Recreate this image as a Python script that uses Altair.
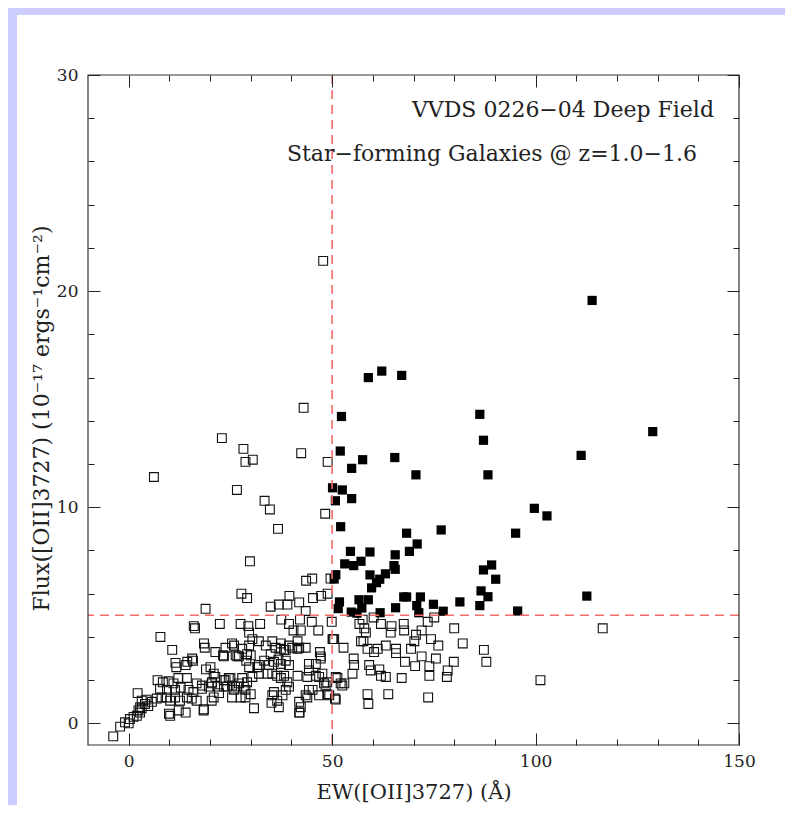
import altair as alt
import pandas as pd

# ---------------- data ----------------
open_squares = [
    (47.8, 21.4), (43.0, 14.6), (22.9, 13.2), (28.2, 12.7), (28.7, 12.1), (30.5, 12.2),
    (42.4, 12.5), (48.9, 12.1), (6.2, 11.4), (26.6, 10.8), (33.4, 10.3), (34.7, 9.9),
    (48.3, 9.7), (36.7, 9.0), (29.8, 7.5), (43.6, 6.6), (45.1, 6.7), (49.6, 6.7),
    (27.7, 6.0), (29.1, 5.8), (39.5, 5.9), (45.3, 5.8), (47.3, 5.9), (48.9, 6.0),
    (34.9, 5.4), (36.9, 5.5), (39.0, 5.5), (41.9, 5.6), (43.5, 5.2), (18.9, 5.3),
    (16.0, 4.5), (16.3, 4.4), (22.4, 4.6), (27.5, 4.6), (29.6, 4.2), (32.3, 4.6),
    (37.5, 4.8), (39.4, 4.6), (42.1, 4.8), (45.0, 4.7), (46.6, 4.3), (49.9, 4.7),
    (40.5, 4.3), (7.8, 4.0), (29.4, 4.5), (42.3, 4.3), (50.2, 3.9), (57.5, 4.8),
    (56.7, 4.6), (57.9, 4.4), (58.3, 4.2), (57.7, 3.8), (57.1, 3.8), (60.2, 4.9),
    (62.0, 4.6), (64.6, 4.5), (64.4, 4.2), (67.6, 4.6), (67.7, 4.3), (70.6, 4.1),
    (72.0, 4.3), (73.5, 4.7), (75.1, 4.9), (80.0, 4.4), (82.1, 3.7), (116.5, 4.4),
    (10.7, 3.4), (18.5, 3.7), (18.7, 3.5), (21.3, 3.3), (23.2, 3.15), (23.8, 3.5),
    (25.9, 3.6), (26.3, 3.15), (27.1, 3.1), (27.9, 3.45), (29.6, 3.6), (30.4, 3.9),
    (32.0, 3.8), (29.1, 3.2), (33.7, 3.6), (35.3, 3.8), (36.1, 3.5), (37.4, 3.7),
    (38.2, 3.4), (40.2, 3.5), (41.5, 3.8), (41.9, 3.5), (43.5, 3.5), (47.0, 3.3),
    (47.2, 3.1), (15.6, 3.0), (50.1, 3.9), (23.4, 3.1), (25.4, 3.7), (26.7, 3.1),
    (30.0, 3.15), (34.9, 3.2), (37.4, 3.45), (38.6, 3.4), (39.4, 3.6), (41.5, 3.45),
    (47.2, 3.0), (50.5, 3.9), (52.8, 3.5), (58.7, 3.45), (60.3, 3.3), (61.2, 3.45),
    (63.2, 3.6), (65.7, 3.45), (65.7, 3.25), (69.4, 3.45), (70.2, 3.8), (74.3, 3.9),
    (76.1, 3.6), (87.3, 3.4), (55.3, 3.0), (72.0, 3.1), (75.5, 3.0),
    (11.5, 2.8), (11.7, 2.6), (14.0, 2.7), (14.4, 2.85), (15.8, 2.9), (19.0, 2.5),
    (20.9, 2.3), (28.9, 2.9), (29.6, 2.6), (31.6, 2.6), (32.0, 2.3), (33.3, 2.9),
    (34.5, 2.7), (35.7, 2.85), (36.8, 2.95), (37.4, 2.75), (38.6, 2.9), (39.4, 2.7),
    (44.3, 2.75), (46.0, 2.75), (41.5, 2.2), (43.9, 2.15), (44.3, 2.45), (46.0, 2.2),
    (47.6, 2.3), (50.9, 2.15), (21.3, 2.15), (23.4, 2.0), (24.6, 2.1), (27.9, 2.1),
    (20.1, 2.6), (32.0, 2.7), (34.1, 2.3), (35.3, 2.3), (36.5, 2.2), (37.4, 2.1),
    (38.2, 2.2), (87.9, 2.85), (55.4, 2.7), (55.0, 2.3), (59.1, 2.7), (59.5, 2.45),
    (61.6, 2.5), (62.0, 2.2), (63.2, 2.15), (67.9, 2.85), (70.4, 2.65), (73.9, 2.65),
    (73.9, 2.2), (78.4, 2.45), (78.2, 2.15), (79.9, 2.85), (67.1, 2.1), (51.3, 2.1),
    (101.2, 2.0), (46.8, 2.15), (25.0, 2.1), (30.4, 2.15), (14.3, 2.1), (12.2, 2.1),
    (7.1, 2.0),
    (8.4, 1.9), (9.8, 1.95), (11.0, 1.85), (16.7, 1.85), (18.0, 1.75), (20.4, 1.85),
    (7.7, 1.6), (9.4, 1.55), (11.4, 1.55), (12.8, 1.65), (14.7, 1.55), (15.9, 1.45),
    (18.0, 1.6), (2.2, 1.4), (3.2, 1.05), (4.4, 1.1), (5.7, 1.0), (6.9, 1.15),
    (8.1, 1.2), (9.4, 1.2), (10.2, 1.05), (11.4, 1.2), (12.6, 1.05), (14.3, 1.2),
    (15.5, 1.15), (16.7, 1.05), (20.4, 1.05), (25.4, 1.75), (27.1, 1.85), (28.3, 1.7),
    (29.1, 1.9), (30.0, 1.35), (28.7, 1.2), (27.5, 1.2), (25.4, 1.2), (35.7, 1.45),
    (36.5, 1.05), (39.4, 1.7), (38.6, 1.55), (41.9, 1.0), (43.5, 1.3), (44.3, 1.55),
    (19.7, 1.7), (20.9, 1.2), (48.4, 1.75), (49.3, 1.3), (50.7, 1.15), (52.1, 1.85),
    (53.0, 1.85), (52.5, 1.75), (50.9, 1.1), (58.7, 1.35), (63.8, 1.35), (73.6, 1.2),
    (21.8, 1.7), (24.2, 1.7), (25.9, 1.55), (23.8, 2.0), (35.3, 1.3), (37.8, 1.3),
    (39.0, 1.9), (43.9, 1.2), (45.2, 1.55), (46.8, 1.3), (48.8, 1.35), (48.0, 1.85),
    (48.8, 1.9), (22.2, 1.4), (23.4, 1.7), (26.7, 1.7), (28.7, 1.55), (20.5, 1.9),
    (18.4, 0.6), (10.2, 0.35), (2.8, 0.75), (4.0, 0.9), (4.8, 0.8), (2.8, 0.5),
    (0.3, 0.2), (1.2, 0.3), (-0.9, 0.05), (0.0, 0.0), (-2.1, -0.15), (-3.8, -0.6),
    (2.0, 0.35), (2.4, 0.6), (3.2, 0.7), (30.8, 0.7), (36.9, 0.75), (42.3, 0.75),
    (42.0, 0.5), (35.1, 0.95), (58.9, 0.9), (18.5, 0.65), (9.9, 0.45), (12.3, 0.6),
    (14.0, 0.5), (41.9, 0.5),
]

filled_squares = [
    (58.9, 16.0), (62.2, 16.3), (67.1, 16.1), (52.3, 14.2), (86.3, 14.3), (87.2, 13.1),
    (52.0, 12.6), (57.5, 12.2), (65.4, 12.3), (54.8, 11.8), (70.6, 11.5), (88.3, 11.5),
    (50.1, 10.9), (52.5, 10.8), (50.8, 10.3), (54.8, 10.4), (99.7, 9.95), (102.8, 9.6),
    (52.1, 9.1), (68.3, 8.8), (76.8, 8.95), (95.1, 8.8), (70.9, 8.3), (54.5, 7.96),
    (59.3, 7.93), (69.0, 7.96), (65.5, 7.8), (53.1, 7.38), (55.3, 7.3), (57.1, 7.5),
    (65.2, 7.3), (65.5, 7.13), (89.2, 7.33), (87.2, 7.1), (90.2, 6.67), (50.9, 6.88),
    (50.5, 6.68), (59.3, 6.87), (63.1, 6.92), (60.9, 6.51), (61.7, 6.67), (59.7, 6.27),
    (86.6, 6.13), (88.3, 5.86), (51.8, 5.62), (51.5, 5.31), (56.6, 5.72), (58.9, 5.72),
    (57.3, 5.34), (54.7, 5.15), (56.1, 5.1), (61.8, 5.12), (65.6, 5.35), (67.6, 5.85),
    (68.3, 5.85), (71.7, 5.85), (70.8, 5.45), (71.3, 5.12), (74.9, 5.51), (77.3, 5.19),
    (81.4, 5.62), (86.3, 5.45), (95.6, 5.2), (113.9, 19.57), (128.8, 13.5),
    (111.2, 12.4), (112.6, 5.89),
]

x_domain = [-10, 150]
y_domain = [-1, 30]
x_major = [0, 50, 100, 150]
x_minor = [10, 20, 30, 40, 60, 70, 80, 90, 110, 120, 130, 140]
y_major = [0, 10, 20, 30]
y_minor = [2, 4, 6, 8, 12, 14, 16, 18, 22, 24, 26, 28]
ew_cut = [50]
flux_cut = [5]
notes = ["VVDS 0226\u221204 Deep Field", "Star\u2212forming Galaxies @ z=1.0\u22121.6"]
x_title = "EW([OII]3727) (\u00c5)"
y_title = "Flux([OII]3727) (10\u207b\u00b9\u2077 ergs\u207b\u00b9cm\u207b\u00b2)"

# ---------------- styling ----------------
W, H = 651, 670
FONT = "DejaVu Serif"
INK = "#222222"
RED = "#f26a6a"
LAVENDER = "#ccccff"
MAJOR, MINOR = 12, 6

xs = alt.Scale(domain=x_domain, nice=False, zero=False)
ys = alt.Scale(domain=y_domain, nice=False, zero=False)


def tick_axis(orient, values, size, **kw):
    base = dict(orient=orient, values=values, tickSize=size, offset=-size,
                domain=False, grid=False, ticks=True, tickColor=INK,
                tickWidth=1, zindex=1)
    base.update(kw)
    return alt.Axis(**base)


bare = dict(labels=False, title=None)
bottom_major = tick_axis("bottom", x_major, MAJOR, labels=True, labelFont=FONT,
                         labelFontSize=17, labelColor=INK, labelPadding=8,
                         labelFlush=False, title=x_title, titleFont=FONT,
                         titleFontSize=21, titleFontWeight="normal",
                         titleColor=INK, titlePadding=12)
left_major = tick_axis("left", y_major, MAJOR, labels=True, labelFont=FONT,
                       labelFontSize=17, labelColor=INK, labelPadding=10,
                       title=y_title, titleFont=FONT, titleFontSize=22,
                       titleFontWeight="normal", titleColor=INK, titlePadding=3,
                       titleY=H / 2 + 8)
bottom_minor = tick_axis("bottom", x_minor, MINOR, **bare)
left_minor = tick_axis("left", y_minor, MINOR, **bare)
top_major = tick_axis("top", x_major, MAJOR, **bare)
right_major = tick_axis("right", y_major, MAJOR, **bare)
top_minor = tick_axis("top", x_minor, MINOR, **bare)
right_minor = tick_axis("right", y_minor, MINOR, **bare)

open_df = pd.DataFrame(open_squares, columns=["ew", "flux"])
filled_df = pd.DataFrame(filled_squares, columns=["ew", "flux"])
cut_df = pd.DataFrame({"ew_cut": ew_cut, "flux_cut": flux_cut})
frame_df = pd.DataFrame({"x0": [x_domain[0]], "x1": [x_domain[1]],
                         "y0": [y_domain[0]], "y1": [y_domain[1]]})
one = pd.DataFrame({"k": [0]})

# lavender page border (left and top strips)
strip_left = alt.Chart(one).mark_rect(color=LAVENDER).encode(
    x=alt.value(-80), x2=alt.value(-71), y=alt.value(-67), y2=alt.value(H + 60))
strip_top = alt.Chart(one).mark_rect(color=LAVENDER).encode(
    x=alt.value(-80), x2=alt.value(W + 46), y=alt.value(-67), y2=alt.value(-60))

pts_open = alt.Chart(open_df).mark_point(
    shape="square", filled=False, size=78, strokeWidth=1.1, color="#111111", opacity=1
).encode(
    x=alt.X("ew:Q", scale=xs, axis=bottom_major),
    y=alt.Y("flux:Q", scale=ys, axis=left_major),
)

pts_filled = alt.Chart(filled_df).mark_point(
    shape="square", filled=True, size=85, color="#000000", opacity=1
).encode(
    x=alt.X("ew:Q", scale=xs, axis=bottom_minor),
    y=alt.Y("flux:Q", scale=ys, axis=left_minor),
)

vline = alt.Chart(cut_df).mark_rule(color=RED, strokeWidth=1.6, strokeDash=[9, 6]).encode(
    x=alt.X("ew_cut:Q", scale=xs, axis=top_major))

hline = alt.Chart(cut_df).mark_rule(color=RED, strokeWidth=1.6, strokeDash=[9, 6]).encode(
    y=alt.Y("flux_cut:Q", scale=ys, axis=right_major))

note1 = alt.Chart(one).mark_text(align="right", baseline="alphabetic", font=FONT,
                                 fontSize=22, color=INK).encode(
    x=alt.value(626), y=alt.value(42), text=alt.value(notes[0]))
note2 = alt.Chart(one).mark_text(align="right", baseline="alphabetic", font=FONT,
                                 fontSize=22, color=INK).encode(
    x=alt.value(609), y=alt.value(86), text=alt.value(notes[1]))

frame = alt.Chart(frame_df).mark_rect(fillOpacity=0, stroke="#333333", strokeWidth=1.2).encode(
    x=alt.X("x0:Q", scale=xs, axis=top_minor), x2="x1",
    y=alt.Y("y0:Q", scale=ys, axis=right_minor), y2="y1",
)

chart = alt.layer(
    strip_left, strip_top, pts_open, pts_filled, vline, hline, note1, note2, frame
).resolve_axis(
    x="independent", y="independent"
).properties(
    width=W, height=H, background="white",
    padding={"left": 0, "top": 0, "right": 0, "bottom": 0},
).configure_view(strokeWidth=0)

chart.save("out.html", embed_options={"renderer": "svg", "actions": False})
